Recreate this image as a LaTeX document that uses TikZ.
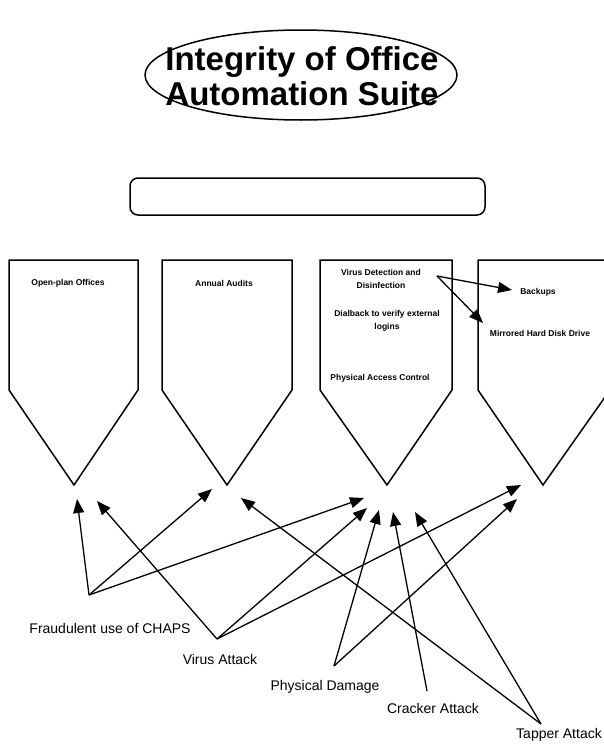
\documentclass[tikz,border=0pt]{standalone}
\usepackage{fontspec}
\setmainfont{Liberation Sans}
\usetikzlibrary{arrows.meta,shapes.geometric}
\begin{document}
\begin{tikzpicture}[x=1pt,y=-1pt,
  shapeline/.style={line width=1.5pt,line join=miter},
  conn/.style={line width=1.3pt,-{Triangle[length=14pt,width=11pt]}},
  small/.style={font=\bfseries\fontsize{8.5}{13.5}\selectfont,align=center,inner sep=0pt},
  lbl/.style={font=\fontsize{14}{16}\selectfont,inner sep=0pt}]
\useasboundingbox (0,0) rectangle (604,744);
% title
\node[ellipse,draw,line width=1.5pt,minimum width=312pt,minimum height=90pt,inner sep=0pt] (title) at (301,75) {};
\node[font=\bfseries\fontsize{33}{35}\selectfont,align=center,inner sep=0pt] (titletext) at (302,76) {Integrity of Office\\Automation Suite};
% empty rounded box
\node[draw,line width=1.5pt,rounded corners=8pt,minimum width=355pt,minimum height=37pt,inner sep=0pt] (bar) at (307.5,196.5) {};
% pentagons
\draw[shapeline] (9,260) -- (138,260) -- (138,390) -- (74,485) -- (9,390) -- cycle;
\draw[shapeline] (162,260) -- (292,260) -- (292,390) -- (227,485) -- (162,390) -- cycle;
\draw[shapeline] (320,260) -- (452,260) -- (452,390) -- (387,485) -- (320,390) -- cycle;
\draw[shapeline] (478,260) -- (610,260) -- (610,390) -- (543,485) -- (478,390) -- cycle;
% pentagon texts
\node[small] (open) at (68,283) {Open-plan Offices};
\node[small] (audit) at (224,283) {Annual Audits};
\node[small] (vdet) at (381,279) {Virus Detection and\\Disinfection};
\node[small] (dial) at (387,321) {Dialback to verify external\\logins};
\node[small] (phac) at (380,378) {Physical Access Control};
\node[small] (backup) at (538,292) {Backups};
\node[small] (mirror) at (540,333) {Mirrored Hard Disk Drive};
\coordinate (vdo) at (437,276);
\coordinate (bkt) at (512,290);
\coordinate (mrt) at (483,323);
\draw[conn] (vdo) -- (bkt);
\draw[conn] (vdo) -- (mrt);
% bottom labels
\node[lbl] (fraud) at (110,628) {Fraudulent use of CHAPS};
\node[lbl] (virus) at (220,659) {Virus Attack};
\node[lbl] (phys) at (325,687) {Physical Damage};
\node[lbl] (crack) at (433,708) {Cracker Attack};
\node[lbl] (tap) at (559,735) {Tapper Attack};
\coordinate (fo) at (89,595);
\coordinate (vo) at (217,639);
\coordinate (po) at (334,666);
\coordinate (co) at (427,691);
\coordinate (to) at (541,724);
% arrow ends
\coordinate (f1) at (77,499);
\coordinate (f2) at (212,489);
\coordinate (f3) at (364,498);
\coordinate (v1) at (97,501);
\coordinate (v2) at (367,508);
\coordinate (v3) at (521,485);
\coordinate (p1) at (379,510);
\coordinate (p2) at (517,499);
\coordinate (c1) at (393,512);
\coordinate (t1) at (415,512);
\coordinate (t2) at (241,498);
\draw[conn] (fo) -- (f1);
\draw[conn] (fo) -- (f2);
\draw[conn] (fo) -- (f3);
\draw[conn] (vo) -- (v1);
\draw[conn] (vo) -- (v2);
\draw[conn] (vo) -- (v3);
\draw[conn] (po) -- (p1);
\draw[conn] (po) -- (p2);
\draw[conn] (co) -- (c1);
\draw[conn] (to) -- (t1);
\draw[conn] (to) -- (t2);
\end{tikzpicture}
\end{document}
